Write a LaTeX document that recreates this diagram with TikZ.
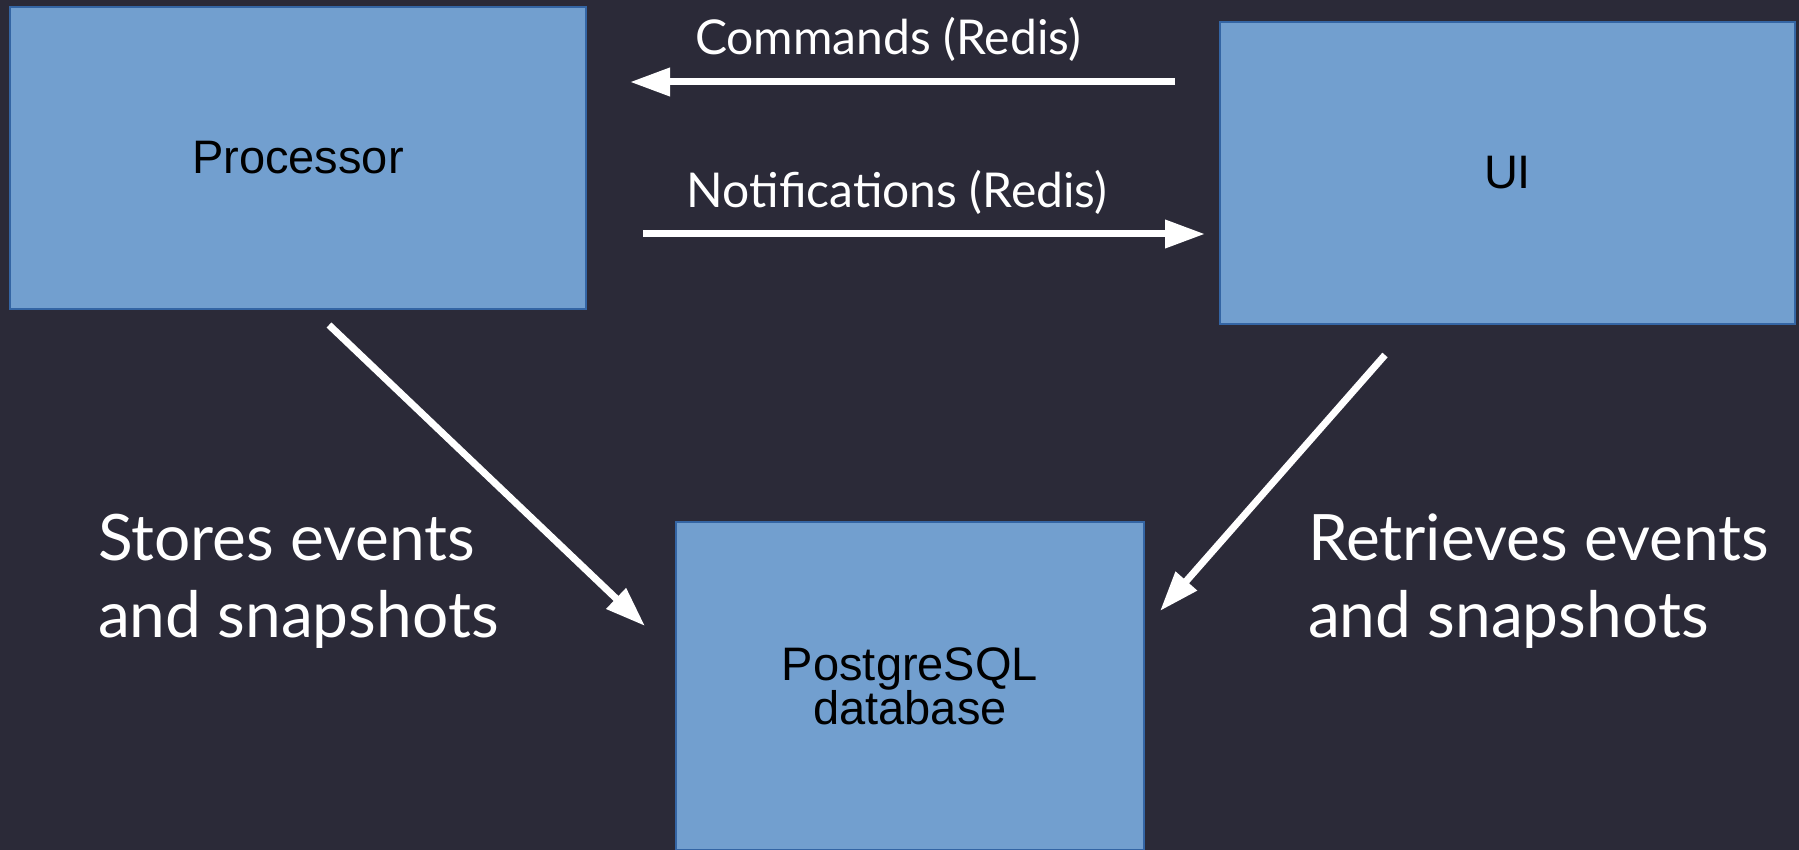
\documentclass[tikz,border=0pt]{standalone}
\usepackage{fontspec}
\setmainfont{Liberation Sans}
\newfontfamily\labelfont{Lato}
\usetikzlibrary{arrows.meta}
\definecolor{bgdark}{HTML}{2B2A38}
\definecolor{boxblue}{HTML}{729FCF}
\definecolor{boxedge}{HTML}{3465A4}
\tikzset{every node/.style={inner sep=0pt, outer sep=0pt}}
\tikzset{compbox/.style={rectangle,fill=boxblue,draw=boxedge,line width=0.6pt,align=center,font=\fontsize{23.5}{22}\selectfont}}
\tikzset{flow/.style={draw=white,line width=3.5pt,-{Triangle[length=20pt,width=13.5pt]}}}
\tikzset{lbl/.style={text=white,font=\labelfont\fontsize{24}{28}\selectfont}}
\tikzset{biglbl/.style={text=white,align=left,font=\labelfont\fontsize{32}{38.5}\selectfont}}

\begin{document}
\begin{tikzpicture}[x=0.5pt,y=-0.5pt]

    \useasboundingbox (0,0) rectangle (1799,850);
    \fill[bgdark] (0,0) rectangle (1799,850);

    \node[compbox,minimum width=288pt,minimum height=151pt] (ProcBox) at (298,158) {Processor};
    \node[compbox,minimum width=287.5pt,minimum height=151pt] (UIBox) at (1507.5,173) {UI};
    \node[compbox,minimum width=234pt,minimum height=164pt] (DBBox) at (910,686) {PostgreSQL\\database};

    \coordinate (CmdStart) at (1175,82);
    \coordinate (CmdEnd) at (630,82);
    \coordinate (NotStart) at (643,234);
    \coordinate (NotEnd) at (1205,234);
    \coordinate (StoreStart) at (329,325);
    \coordinate (StoreEnd) at (645,626);
    \coordinate (GetStart) at (1385,355);
    \coordinate (GetEnd) at (1160,611);

    \draw[flow] (CmdStart) -- (CmdEnd);
    \draw[flow] (NotStart) -- (NotEnd);
    \draw[flow] (StoreStart) -- (StoreEnd);
    \draw[flow] (GetStart) -- (GetEnd);

    \node[lbl,anchor=base] (CmdLabel) at (888,55) {Commands (Redis)};
    \node[lbl,anchor=base] (NotLabel) at (897,208) {Notifications (Redis)};
    \node[biglbl,anchor=west] (StoreLabel) at (98,581) {Stores events\\and snapshots};
    \node[biglbl,anchor=west] (GetLabel) at (1308,581) {Retrieves events\\and snapshots};

\end{tikzpicture}
\end{document}
